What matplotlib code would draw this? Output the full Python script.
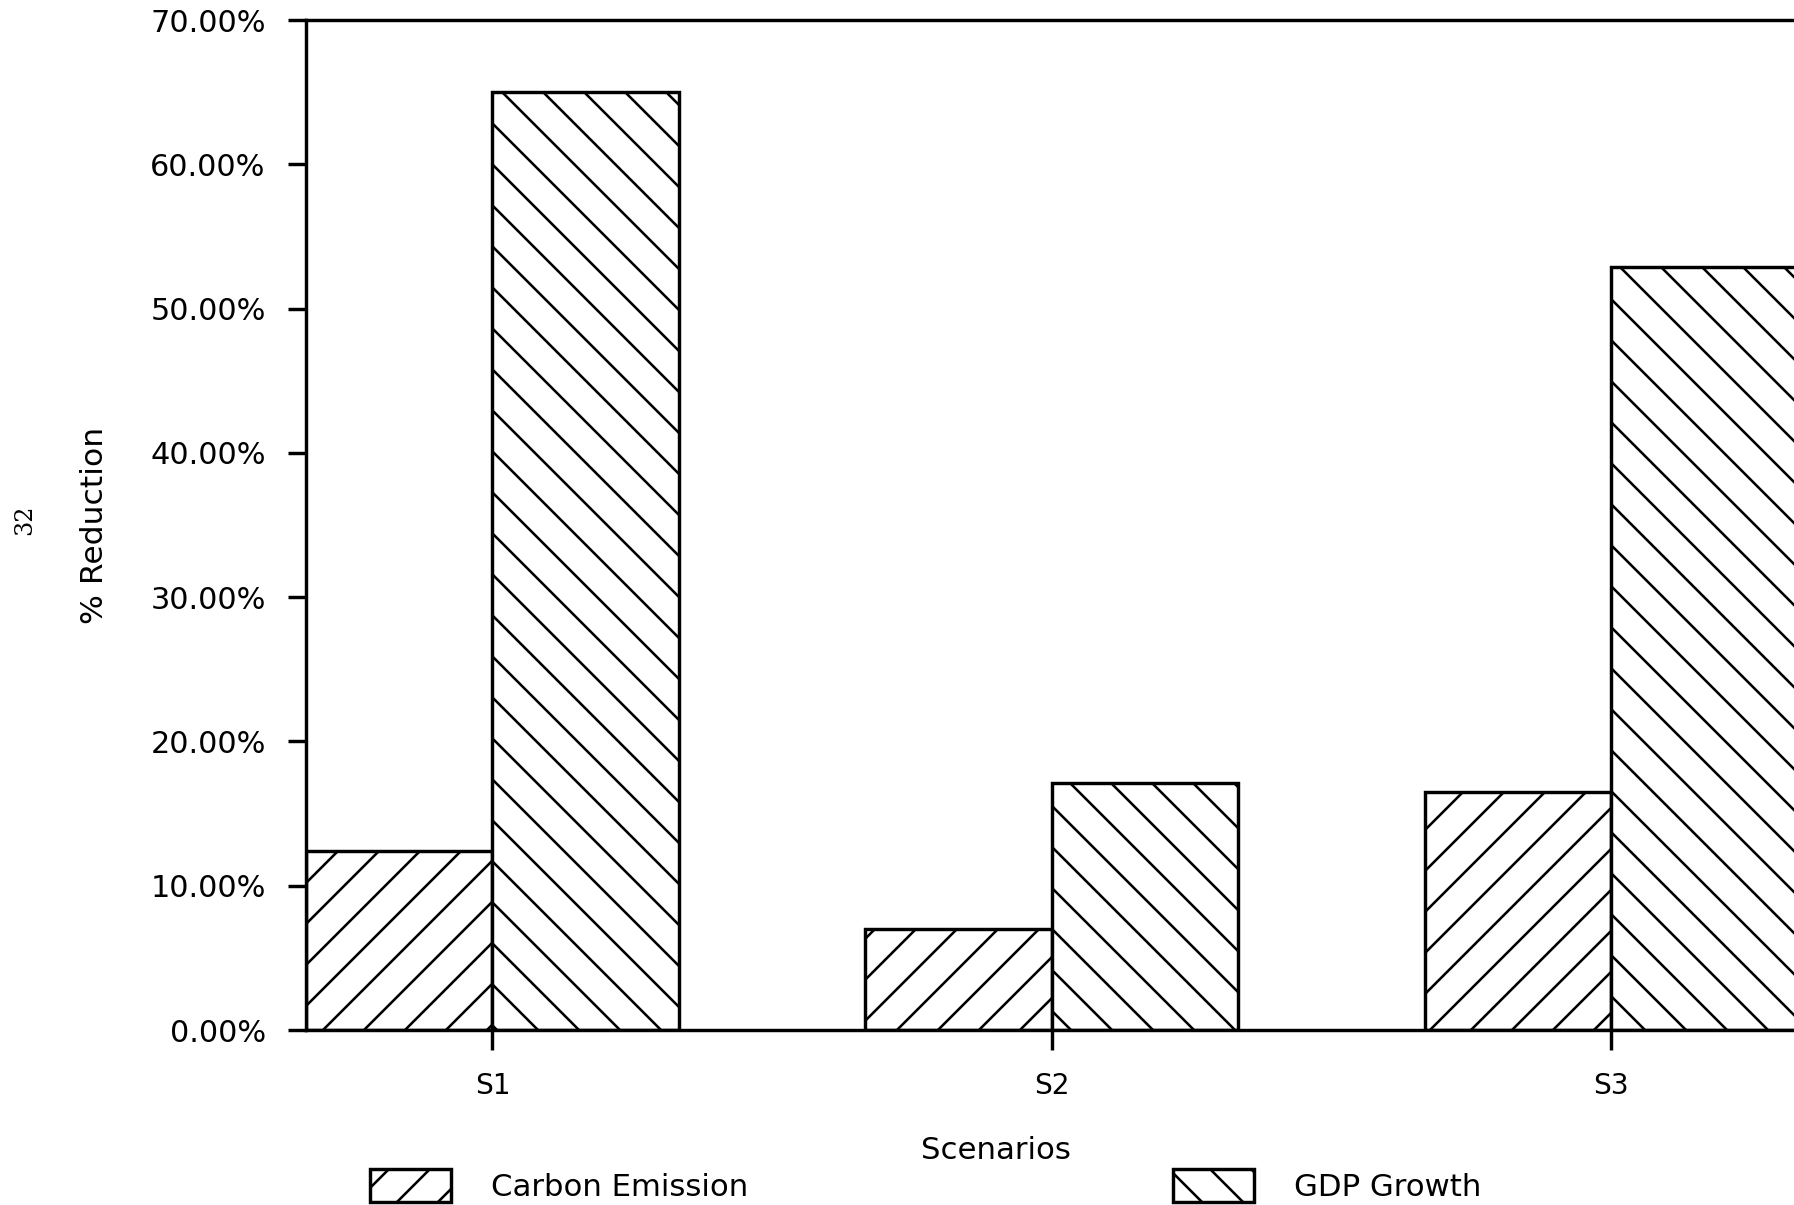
import matplotlib
matplotlib.use("Agg")
import matplotlib.pyplot as plt
from matplotlib.patches import Patch
from matplotlib.ticker import PercentFormatter
import numpy as np

# %% Datos
scenarios = ["S1", "S2", "S3"]
carbon_emission = [12.4, 7.0, 16.5]
gdp_growth = [65.0, 17.1, 52.9]
yticks = [0, 10, 20, 30, 40, 50, 60, 70]

# %% Figura
DPI = 246
plt.rcParams["font.family"] = ["DejaVu Sans"]
plt.rcParams["hatch.linewidth"] = 0.75
plt.rcParams["hatch.color"] = "black"

fig = plt.figure(figsize=(1794 / DPI, 1205 / DPI), dpi=DPI, facecolor="white")
W, H = 1794, 1205
ax = fig.add_axes([306 / W, 1 - 1030 / H, 1488 / W, 1010 / H])

x = np.arange(len(scenarios))
width = 1 / 3
ax.bar(x - width / 2, carbon_emission, width, facecolor="white", edgecolor="black",
       hatch="//", linewidth=1.0)
ax.bar(x + width / 2, gdp_growth, width, facecolor="white", edgecolor="black",
       hatch="\\\\", linewidth=1.0)

ax.set_xlim(-width, 2.327)
ax.set_ylim(0, 70)
ax.set_xticks(x)
ax.set_xticklabels(scenarios)
ax.set_yticks(yticks)
ax.yaxis.set_major_formatter(PercentFormatter(xmax=100, decimals=2))
ax.tick_params(axis="y", direction="out", length=5.3, width=1.0, pad=6.5, labelsize=8.9)
ax.tick_params(axis="x", direction="out", length=5.9, width=1.0, pad=6.5, labelsize=8.2)

for s in ["left", "bottom", "top"]:
    ax.spines[s].set_linewidth(1.0)
ax.spines["right"].set_visible(False)

ax.set_ylabel("% Reduction", fontsize=9.2)
ax.yaxis.set_label_coords(-0.1324, 0.5)
ax.set_xlabel("Scenarios", fontsize=9)
ax.xaxis.set_label_coords(0.464, -0.105)

# leyendas separadas
h1 = Patch(facecolor="white", edgecolor="black", hatch="//", linewidth=1.0)
h2 = Patch(facecolor="white", edgecolor="black", hatch="\\\\", linewidth=1.0)
for h, lab, xa in [(h1, "Carbon Emission", 370 / W), (h2, "GDP Growth", 1172.7 / W)]:
    fig.legend([h], [lab], loc="center left", bbox_to_anchor=(xa, 1 - 1185.5 / H),
               frameon=False, borderpad=0, borderaxespad=0, fontsize=9,
               handlelength=2.65, handleheight=1.3, handletextpad=1.3)

fig.text(25 / W, 1 - 520 / H, "32", rotation=90, fontsize=7, family="DejaVu Serif",
         ha="center", va="center")

fig.savefig("out.png", dpi=DPI, facecolor="white")
